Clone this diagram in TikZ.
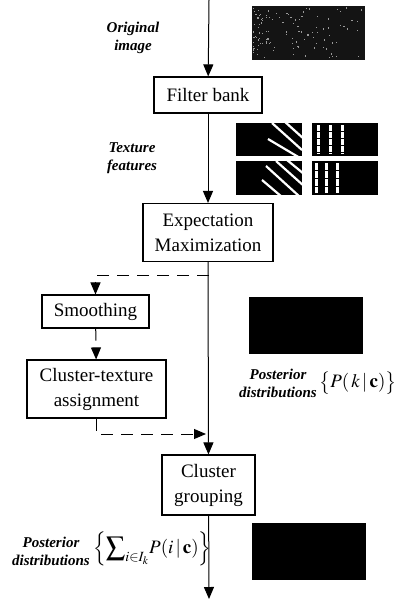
\documentclass[tikz,border=0pt]{standalone}
\usepackage{mathptmx}
\usepackage{fontspec}
\setmainfont{Liberation Serif}
\usetikzlibrary{arrows.meta}
\tikzset{
  box/.style={draw, line width=1.1pt, align=center, inner sep=0pt, font=\fontsize{19}{25}\selectfont},
  lbl/.style={align=center, inner sep=0pt, font=\fontsize{15}{18}\selectfont\bfseries\itshape},
  frm/.style={inner sep=0pt, font=\fontsize{19}{22}\selectfont},
  flow/.style={line width=1pt, -{Triangle[length=12pt,width=10pt]}},
  dflow/.style={flow, dash pattern=on 12pt off 8pt},
  stripe/.style={white, line width=2.2pt}
}
\begin{document}
\begin{tikzpicture}[x=1pt, y=-1pt]
    \useasboundingbox (0,0) rectangle (396,599);

    \coordinate (top) at (209,0);
    \coordinate (split) at (209,275);
    \coordinate (join) at (209,434);
    \coordinate (bot) at (209,599);

    \node[box, minimum width=108, minimum height=36] (filter) at (208,95) {Filter bank};
    \node[box, minimum width=130, minimum height=58] (em) at (208,232.5) {Expectation\\Maximization};
    \node[box, minimum width=107, minimum height=33] (smooth) at (95.5,311.5) {Smoothing};
    \node[box, minimum width=139, minimum height=58] (assign) at (96.5,389) {Cluster-texture\\assignment};
    \node[box, minimum width=93, minimum height=60] (group) at (208.5,485) {Cluster\\grouping};

    \node[lbl] (orig) at (133,38) {Original\\image};
    \node[lbl] (feat) at (132,158) {Texture\\features};
    \node[lbl] (post) at (278,383) {Posterior\\distributions};
    \node[frm, anchor=west] (postk) at (319,383) {$\bigl\{P(\,k\,|\,\mathbf{c})\bigr\}$};
    \node[lbl] (postg) at (51,551) {Posterior\\distributions};
    \node[frm, anchor=west] (postgi) at (93,549) {$\Bigl\{\displaystyle\sum\nolimits_{i\in I_k}\!P(i\,|\,\mathbf{c})\Bigr\}$};

    \fill[black!92] (252,6) rectangle (365,60);
    \pgfmathsetseed{11}
    \foreach \i in {1,...,110}{
        \pgfmathsetmacro\px{253+110*rnd^1.8}
        \pgfmathsetmacro\py{7+51*rnd}
        \fill[gray!80] (\px,\py) rectangle ++(1.2,1.2);
    }

    \fill (236,123) rectangle (302,156);
    \begin{scope}
        \clip (236,123) rectangle (302,156);
        \draw[stripe] (272,123) -- (302,150);
        \draw[stripe] (284,121) -- (304,139);
        \draw[stripe] (268,139) -- (300,158);
    \end{scope}
    \fill (312,123) rectangle (378,156);
    \foreach \sx in {318,330,342}
        \draw[white, line width=3pt, dash pattern=on 6pt off 1pt] (\sx,125) -- (\sx,154);

    \fill (236,161) rectangle (302,195);
    \begin{scope}
        \clip (236,161) rectangle (302,195);
        \draw[stripe] (266,166) -- (300,197);
        \draw[stripe] (276,161) -- (304,186);
        \draw[stripe] (287,160) -- (304,174);
        \draw[stripe] (262,180) -- (282,197);
    \end{scope}
    \fill (312,161) rectangle (378,195);
    \foreach \sx in {316,326,337}
        \draw[white, line width=3pt, dash pattern=on 7pt off 1pt] (\sx,163) -- (\sx,193);

    \fill (249,297) rectangle (363,354);
    \fill (252,523) rectangle (366,580);

    \draw[flow] (top) -- (filter);
    \draw[flow] (filter) -- (em);
    \draw[flow] (em) -- (group);
    \draw[flow] (group) -- (bot);
    \draw[dflow] (split) -| (smooth);
    \draw[dflow] (smooth) -- (assign);
    \draw[dflow] (assign.south) |- ([xshift=-3pt]join);
\end{tikzpicture}
\end{document}
